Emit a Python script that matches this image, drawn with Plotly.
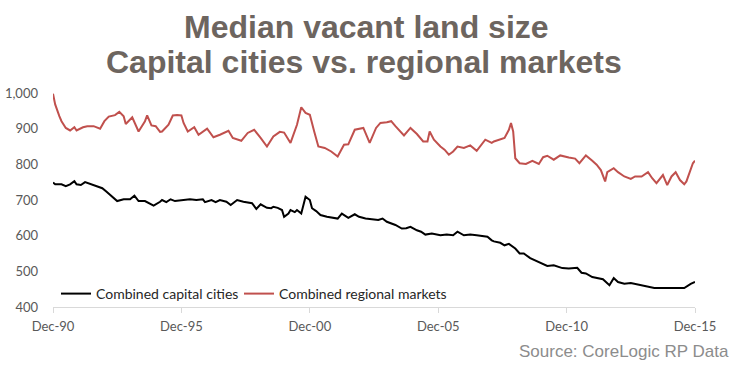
import plotly.graph_objects as go

# Tick labels
x_tick_dates = ["1990-12-01", "1995-12-01", "2000-12-01", "2005-12-01", "2010-12-01", "2015-12-01"]
x_tick_labels = ["Dec-90", "Dec-95", "Dec-00", "Dec-05", "Dec-10", "Dec-15"]
y_tick_vals = [400, 500, 600, 700, 800, 900, 1000]
y_tick_labels = ["400", "500", "600", "700", "800", "900", "1,000"]

# Combined regional markets (median vacant land size, sqm)
regional_dates = [
    "1990-12", "1991-01", "1991-03", "1991-04", "1991-06", "1991-08", "1991-10", "1991-11",
    "1992-02", "1992-04", "1992-07", "1992-10", "1992-12", "1993-02", "1993-05", "1993-07",
    "1993-09", "1993-10", "1994-01", "1994-03", "1994-04", "1994-07", "1994-08", "1994-10",
    "1994-12", "1995-02", "1995-03", "1995-06", "1995-08", "1995-10", "1995-12", "1996-01",
    "1996-03", "1996-06", "1996-08", "1996-12", "1997-03", "1997-06", "1997-10", "1997-12",
    "1998-04", "1998-07", "1998-10", "1999-01", "1999-04", "1999-07", "1999-10", "1999-12",
    "2000-03", "2000-06", "2000-08", "2000-10", "2000-12", "2001-02", "2001-04", "2001-07",
    "2001-10", "2002-01", "2002-04", "2002-06", "2002-09", "2003-01", "2003-04", "2003-07",
    "2003-09", "2003-12", "2004-02", "2004-04", "2004-07", "2004-08", "2004-11", "2005-02",
    "2005-05", "2005-07", "2005-08", "2005-10", "2006-01", "2006-03", "2006-05", "2006-07",
    "2006-09", "2006-12", "2007-03", "2007-06", "2007-10", "2008-01", "2008-02", "2008-05",
    "2008-07", "2008-09", "2008-10", "2008-11", "2008-12", "2009-02", "2009-05", "2009-08",
    "2009-11", "2010-01", "2010-03", "2010-06", "2010-09", "2011-01", "2011-04", "2011-06",
    "2011-09", "2011-12", "2012-02", "2012-04", "2012-06", "2012-07", "2012-10", "2012-12",
    "2013-03", "2013-06", "2013-08", "2013-11", "2014-02", "2014-04", "2014-06", "2014-09",
    "2014-11", "2015-01", "2015-03", "2015-05", "2015-07", "2015-08", "2015-10", "2015-11",
    "2015-12",
]
regional_values = [
    998, 968, 935, 921, 902, 895, 904, 895,
    904, 907, 907, 900, 921, 934, 938, 947,
    935, 913, 932, 906, 892, 921, 937, 909,
    907, 891, 892, 911, 937, 938, 937, 916,
    892, 904, 883, 900, 876, 883, 894, 874,
    866, 888, 897, 874, 850, 878, 891, 889,
    860, 911, 960, 944, 939, 892, 850, 846,
    836, 822, 855, 856, 897, 902, 860, 902,
    916, 918, 921, 907, 889, 881, 902, 885,
    864, 864, 892, 869, 850, 841, 827, 836,
    850, 846, 853, 838, 869, 860, 864, 869,
    874, 897, 916, 892, 817, 803, 801, 810,
    801, 820, 824, 813, 825, 819, 816, 803,
    825, 810, 799, 784, 752, 778, 789, 778,
    766, 759, 766, 766, 778, 761, 747, 770,
    742, 766, 778, 756, 744, 752, 785, 803,
    810,
]

# Combined capital cities
capital_dates = [
    "1990-12", "1991-01", "1991-04", "1991-06", "1991-08", "1991-10", "1991-11", "1992-01",
    "1992-03", "1992-06", "1992-09", "1992-11", "1993-01", "1993-04", "1993-06", "1993-09",
    "1993-12", "1994-02", "1994-04", "1994-07", "1994-09", "1994-11", "1995-02", "1995-03",
    "1995-05", "1995-07", "1995-09", "1996-01", "1996-04", "1996-07", "1996-10", "1996-11",
    "1997-02", "1997-04", "1997-06", "1997-09", "1997-11", "1998-02", "1998-05", "1998-09",
    "1998-11", "1999-01", "1999-04", "1999-06", "1999-07", "1999-09", "1999-11", "1999-12",
    "2000-02", "2000-03", "2000-05", "2000-06", "2000-08", "2000-09", "2000-10", "2000-12",
    "2001-01", "2001-03", "2001-05", "2001-08", "2001-12", "2002-01", "2002-03", "2002-06",
    "2002-09", "2002-11", "2003-02", "2003-05", "2003-08", "2003-10", "2003-12", "2004-04",
    "2004-07", "2004-09", "2004-11", "2005-02", "2005-04", "2005-06", "2005-09", "2006-01",
    "2006-04", "2006-07", "2006-09", "2006-12", "2007-03", "2007-06", "2007-09", "2007-11",
    "2008-01", "2008-02", "2008-05", "2008-07", "2008-09", "2008-12", "2009-02", "2009-04",
    "2009-07", "2009-09", "2009-12", "2010-03", "2010-06", "2010-08", "2010-10", "2011-01",
    "2011-05", "2011-07", "2011-09", "2011-12", "2012-03", "2012-05", "2012-08", "2012-10",
    "2012-12", "2013-03", "2013-06", "2013-09", "2014-02", "2014-05", "2014-09", "2015-02",
    "2015-07", "2015-10", "2015-12",
]
capital_values = [
    749, 744, 744, 739, 744, 753, 744, 742,
    750, 744, 737, 733, 723, 709, 697, 702,
    702, 712, 697, 697, 691, 684, 695, 700,
    694, 702, 697, 700, 702, 700, 702, 694,
    700, 694, 700, 695, 686, 700, 695, 691,
    675, 688, 678, 677, 681, 678, 672, 653,
    662, 672, 666, 672, 662, 686, 709, 700,
    677, 669, 658, 653, 650, 648, 662, 650,
    660, 653, 648, 646, 644, 648, 639, 630,
    620, 621, 625, 615, 611, 603, 606, 601,
    603, 601, 611, 601, 603, 601, 599, 597,
    587, 584, 580, 573, 577, 564, 550, 550,
    537, 531, 522, 515, 517, 514, 509, 508,
    510, 496, 494, 484, 481, 478, 461, 481,
    470, 465, 467, 463, 455, 453, 453, 453,
    453, 465, 470,
]

W, H = 743, 374
ML, MR, MT, MB = 53, 48, 93, 67
PW, PH = W - ML - MR, H - MT - MB


def px_x(p):
    return (p - ML) / PW


def px_y(p):
    return (H - MB - p) / PH


fig = go.Figure()
fig.add_trace(go.Scatter(
    x=capital_dates, y=capital_values, mode="lines",
    name="Combined capital cities", legend="legend",
    line=dict(color="#000000", width=2),
))
fig.add_trace(go.Scatter(
    x=regional_dates, y=regional_values, mode="lines",
    name="Combined regional markets", legend="legend2",
    line=dict(color="#c0504d", width=2),
))

title_color = "#6d655f"
title_font = dict(family="Liberation Sans", size=32, color=title_color, weight="bold")
fig.add_annotation(text="Median vacant land size", xref="paper", yref="paper",
                   x=px_x(366), y=px_y(27), xanchor="center", yanchor="middle",
                   showarrow=False, font=title_font)
fig.add_annotation(text="Capital cities vs. regional markets", xref="paper", yref="paper",
                   x=px_x(364), y=px_y(62), xanchor="center", yanchor="middle",
                   showarrow=False, font=title_font)
fig.add_annotation(text="Source: CoreLogic RP Data", xref="paper", yref="paper",
                   x=px_x(731), y=px_y(351), xanchor="right", yanchor="middle",
                   showarrow=False,
                   font=dict(family="Liberation Sans", size=17, color="#8c8c8c"))

legend_font = dict(family="Lato", size=14, color="#262626")
fig.update_layout(
    width=W, height=H,
    margin=dict(l=ML, r=MR, t=MT, b=MB, pad=0, autoexpand=False),
    paper_bgcolor="white", plot_bgcolor="white",
    showlegend=True,
    legend=dict(x=px_x(56), y=px_y(294), xanchor="left", yanchor="middle",
                font=legend_font, bgcolor="rgba(0,0,0,0)"),
    legend2=dict(x=px_x(239), y=px_y(294), xanchor="left", yanchor="middle",
                 font=legend_font, bgcolor="rgba(0,0,0,0)"),
    xaxis=dict(
        type="date", range=["1990-12-01", "2015-12-01"],
        tickvals=x_tick_dates, ticktext=x_tick_labels,
        showgrid=False, zeroline=False, automargin=False,
        showline=True, linecolor="#d9d9d9", linewidth=1,
        ticks="outside", ticklen=5, tickcolor="#d9d9d9",
        ticklabelstandoff=2,
        tickfont=dict(family="Lato", size=13, color="#595959"),
    ),
    yaxis=dict(
        range=[400, 1000], automargin=False,
        tickvals=y_tick_vals, ticktext=y_tick_labels,
        showgrid=False, zeroline=False, showline=False,
        ticks="", ticklabelstandoff=14,
        tickfont=dict(family="Lato", size=13, color="#595959"),
    ),
)

fig.write_html("out.html", config={"displayModeBar": False},
               post_script="document.body.style.margin='0px';")
